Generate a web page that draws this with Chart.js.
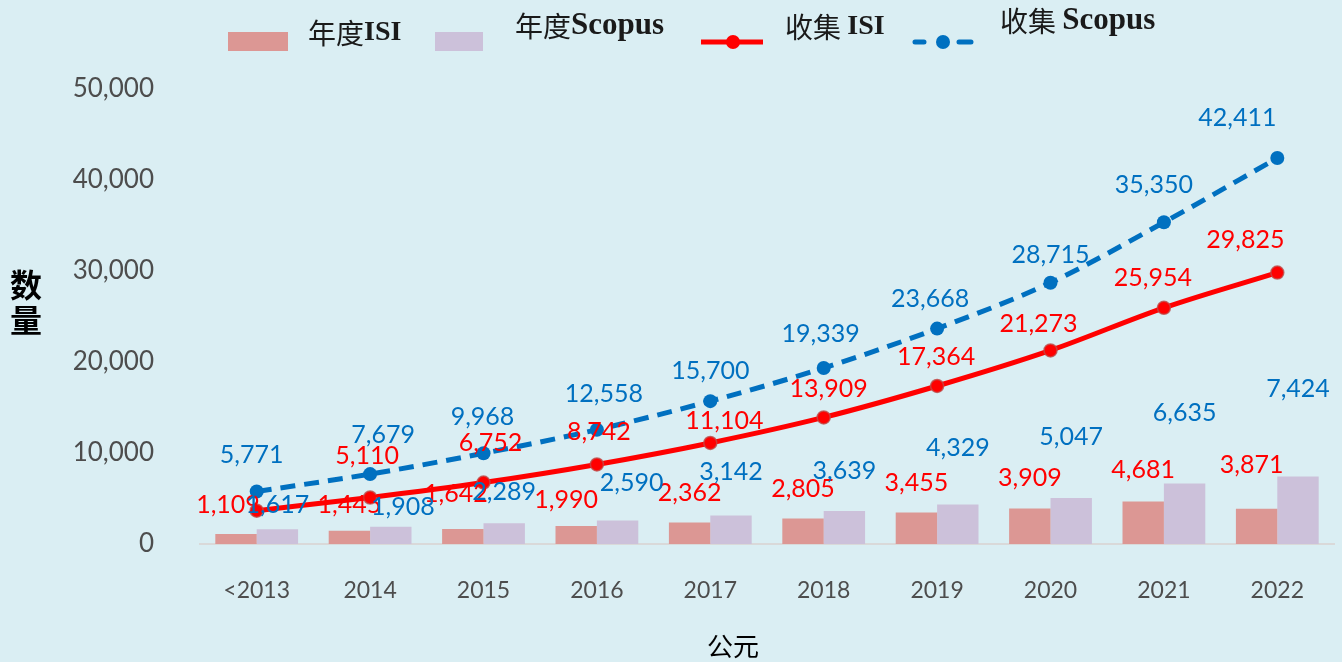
<!DOCTYPE html>
<html>
<head>
<meta charset="utf-8">
<script src="https://cdn.jsdelivr.net/npm/chart.js@4"></script>
<style>
  body { margin: 0; background: #DAEEF3; }
  canvas { display: block; }
</style>
</head>
<body>
<canvas id="pubChart" width="1342" height="662"></canvas>
<script>
// ==== DATA ====
const categories = ['<2013', '2014', '2015', '2016', '2017', '2018', '2019', '2020', '2021', '2022'];
const isiAnnual = [1109, 1445, 1642, 1990, 2362, 2805, 3455, 3909, 4681, 3871];
const scopusAnnual = [1617, 1908, 2289, 2590, 3142, 3639, 4329, 5047, 6635, 7424];
const isiTotal = [3665, 5110, 6752, 8742, 11104, 13909, 17364, 21273, 25954, 29825];
const scopusTotal = [5771, 7679, 9968, 12558, 15700, 19339, 23668, 28715, 35350, 42411];
const yMax = 50000;
const yStep = 10000;

// label nudges (px) from each mark, like the hand-placed labels in the original
const isiAnnualNudge = [[-8,-29],[0,-26],[-7,-35],[-10,-26],[0,-30],[0,-30],[0,-30],[0,-30],[0,-31],[-5,-44]];
const scopusAnnualNudge = [[0,-24],[12,-20],[0,-31],[14,-37],[0,-43],[0,-40],[0,-57],[0,-61],[0,-71],[0,-88]];
const isiTotalNudge = [null,[-3,-42],[7,-40],[2,-33],[14,-22],[5,-28],[-1,-29],[-12,-26],[-11,-30],[-32,-33]];
const scopusTotalNudge = [[-5,-37],[13,-39],[-1,-36],[7,-36],[0,-30],[-3,-34],[-7,-30],[0,-28],[-10,-37],[-40,-40]];

const RED = '#FF0000';
const BLUE = '#0070C0';

function fmt(v) {
    return v.toLocaleString('en-US');
}

// draws the value labels on top of everything
const valueLabels = {
    id: 'valueLabels',
    afterDatasetsDraw(chart) {
        const ctx = chart.ctx;
        ctx.save();
        ctx.font = '25px Lato, "Noto Sans", sans-serif';
        ctx.textAlign = 'center';
        ctx.textBaseline = 'middle';
        // bars first, then lines
        [2, 3, 1, 0].forEach(i => {
            const ds = chart.data.datasets[i];
            const meta = chart.getDatasetMeta(i);
            ctx.fillStyle = ds.labelColor;
            meta.data.forEach((el, j) => {
                const n = ds.nudge[j];
                if (!n) return;
                ctx.fillText(fmt(ds.data[j]), el.x + n[0], el.y + n[1]);
            });
        });
        ctx.restore();
    }
};

// legend + axis titles
function drawParts(ctx, parts, x, y) {
    parts.forEach(p => {
        ctx.font = p[1];
        ctx.fillText(p[0], x, y);
        x += ctx.measureText(p[0]).width;
    });
}

const extras = {
    id: 'extras',
    afterDraw(chart) {
        const ctx = chart.ctx;
        const cjk = '28px "Noto Sans CJK SC", sans-serif';
        const lat = 'bold 28px "Liberation Serif", serif';
        const latWide = 'bold 31px "Liberation Serif", serif';
        ctx.save();
        ctx.textBaseline = 'middle';
        ctx.textAlign = 'left';

        ctx.fillStyle = '#DC9794';
        ctx.fillRect(228, 32, 60, 19);
        ctx.fillStyle = '#CCC1DA';
        ctx.fillRect(435, 32, 48, 19);

        ctx.fillStyle = '#1a1a1a';
        drawParts(ctx, [['年度', cjk], ['ISI', lat]], 308, 33);
        drawParts(ctx, [['年度', cjk], ['Scopus', latWide]], 515, 26);
        drawParts(ctx, [['收集 ', cjk], ['ISI', lat]], 785, 27);
        drawParts(ctx, [['收集 ', cjk], ['Scopus', latWide]], 1000, 21);

        // line markers
        ctx.lineWidth = 5;
        ctx.strokeStyle = RED;
        ctx.beginPath();
        ctx.moveTo(701, 42); ctx.lineTo(763, 42);
        ctx.stroke();
        ctx.fillStyle = RED;
        ctx.beginPath(); ctx.arc(733, 42, 7, 0, Math.PI * 2); ctx.fill();

        ctx.strokeStyle = BLUE;
        ctx.lineCap = 'round';
        ctx.beginPath();
        ctx.moveTo(915, 42); ctx.lineTo(924, 42);
        ctx.moveTo(959, 42); ctx.lineTo(971, 42);
        ctx.stroke();
        ctx.fillStyle = BLUE;
        ctx.beginPath(); ctx.arc(943, 42, 7, 0, Math.PI * 2); ctx.fill();

        // axis titles
        ctx.fillStyle = '#000';
        ctx.textAlign = 'center';
        ctx.font = 'bold 32px "Noto Sans CJK SC", sans-serif';
        ctx.fillText('数', 26, 285);
        ctx.fillText('量', 26, 320);
        ctx.font = '26px "Noto Sans CJK SC", sans-serif';
        ctx.fillText('公元', 733, 646);
        ctx.restore();
    }
};

document.addEventListener('DOMContentLoaded', function () {
    const ctx = document.getElementById('pubChart').getContext('2d');

    new Chart(ctx, {
        data: {
            labels: categories,
            datasets: [
                {
                    type: 'line',
                    label: '收集 Scopus',
                    data: scopusTotal,
                    borderColor: BLUE,
                    backgroundColor: BLUE,
                    borderWidth: 5,
                    borderDash: [15, 9],
                    cubicInterpolationMode: 'monotone',
                    pointRadius: 7,
                    pointBorderWidth: 0,
                    labelColor: BLUE,
                    nudge: scopusTotalNudge,
                    order: 1
                },
                {
                    type: 'line',
                    label: '收集 ISI',
                    data: isiTotal,
                    borderColor: RED,
                    backgroundColor: RED,
                    borderWidth: 5,
                    cubicInterpolationMode: 'monotone',
                    pointRadius: 6.5,
                    pointBorderWidth: 1.5,
                    pointBorderColor: 'rgba(190,75,72,0.8)',
                    labelColor: RED,
                    nudge: isiTotalNudge,
                    order: 0
                },
                {
                    type: 'bar',
                    label: '年度ISI',
                    data: isiAnnual,
                    backgroundColor: '#DC9794',
                    categoryPercentage: 0.73,
                    barPercentage: 1.0,
                    labelColor: RED,
                    nudge: isiAnnualNudge,
                    order: 2
                },
                {
                    type: 'bar',
                    label: '年度Scopus',
                    data: scopusAnnual,
                    backgroundColor: '#CCC1DA',
                    categoryPercentage: 0.73,
                    barPercentage: 1.0,
                    labelColor: BLUE,
                    nudge: scopusAnnualNudge,
                    order: 3
                }
            ]
        },
        options: {
            responsive: false,
            animation: false,
            layout: { padding: { top: 89, right: 8, left: 0, bottom: 0 } },
            plugins: {
                legend: { display: false },
                tooltip: { enabled: false }
            },
            scales: {
                x: {
                    grid: { display: false, drawTicks: false },
                    border: { color: '#D9D9D9', width: 2 },
                    ticks: {
                        color: '#4D4D4D',
                        font: { family: 'Lato', size: 23 },
                        padding: 33
                    },
                    afterFit(scale) { scale.height = 118; }
                },
                y: {
                    min: 0,
                    max: yMax,
                    grid: { display: false, drawTicks: false },
                    border: { display: false },
                    ticks: {
                        stepSize: yStep,
                        color: '#4D4D4D',
                        font: { family: 'Lato', size: 26 },
                        padding: 46,
                        callback: v => fmt(v)
                    },
                    afterFit(scale) { scale.width = 200; }
                }
            }
        },
        plugins: [valueLabels, extras]
    });
});
</script>
</body>
</html>
